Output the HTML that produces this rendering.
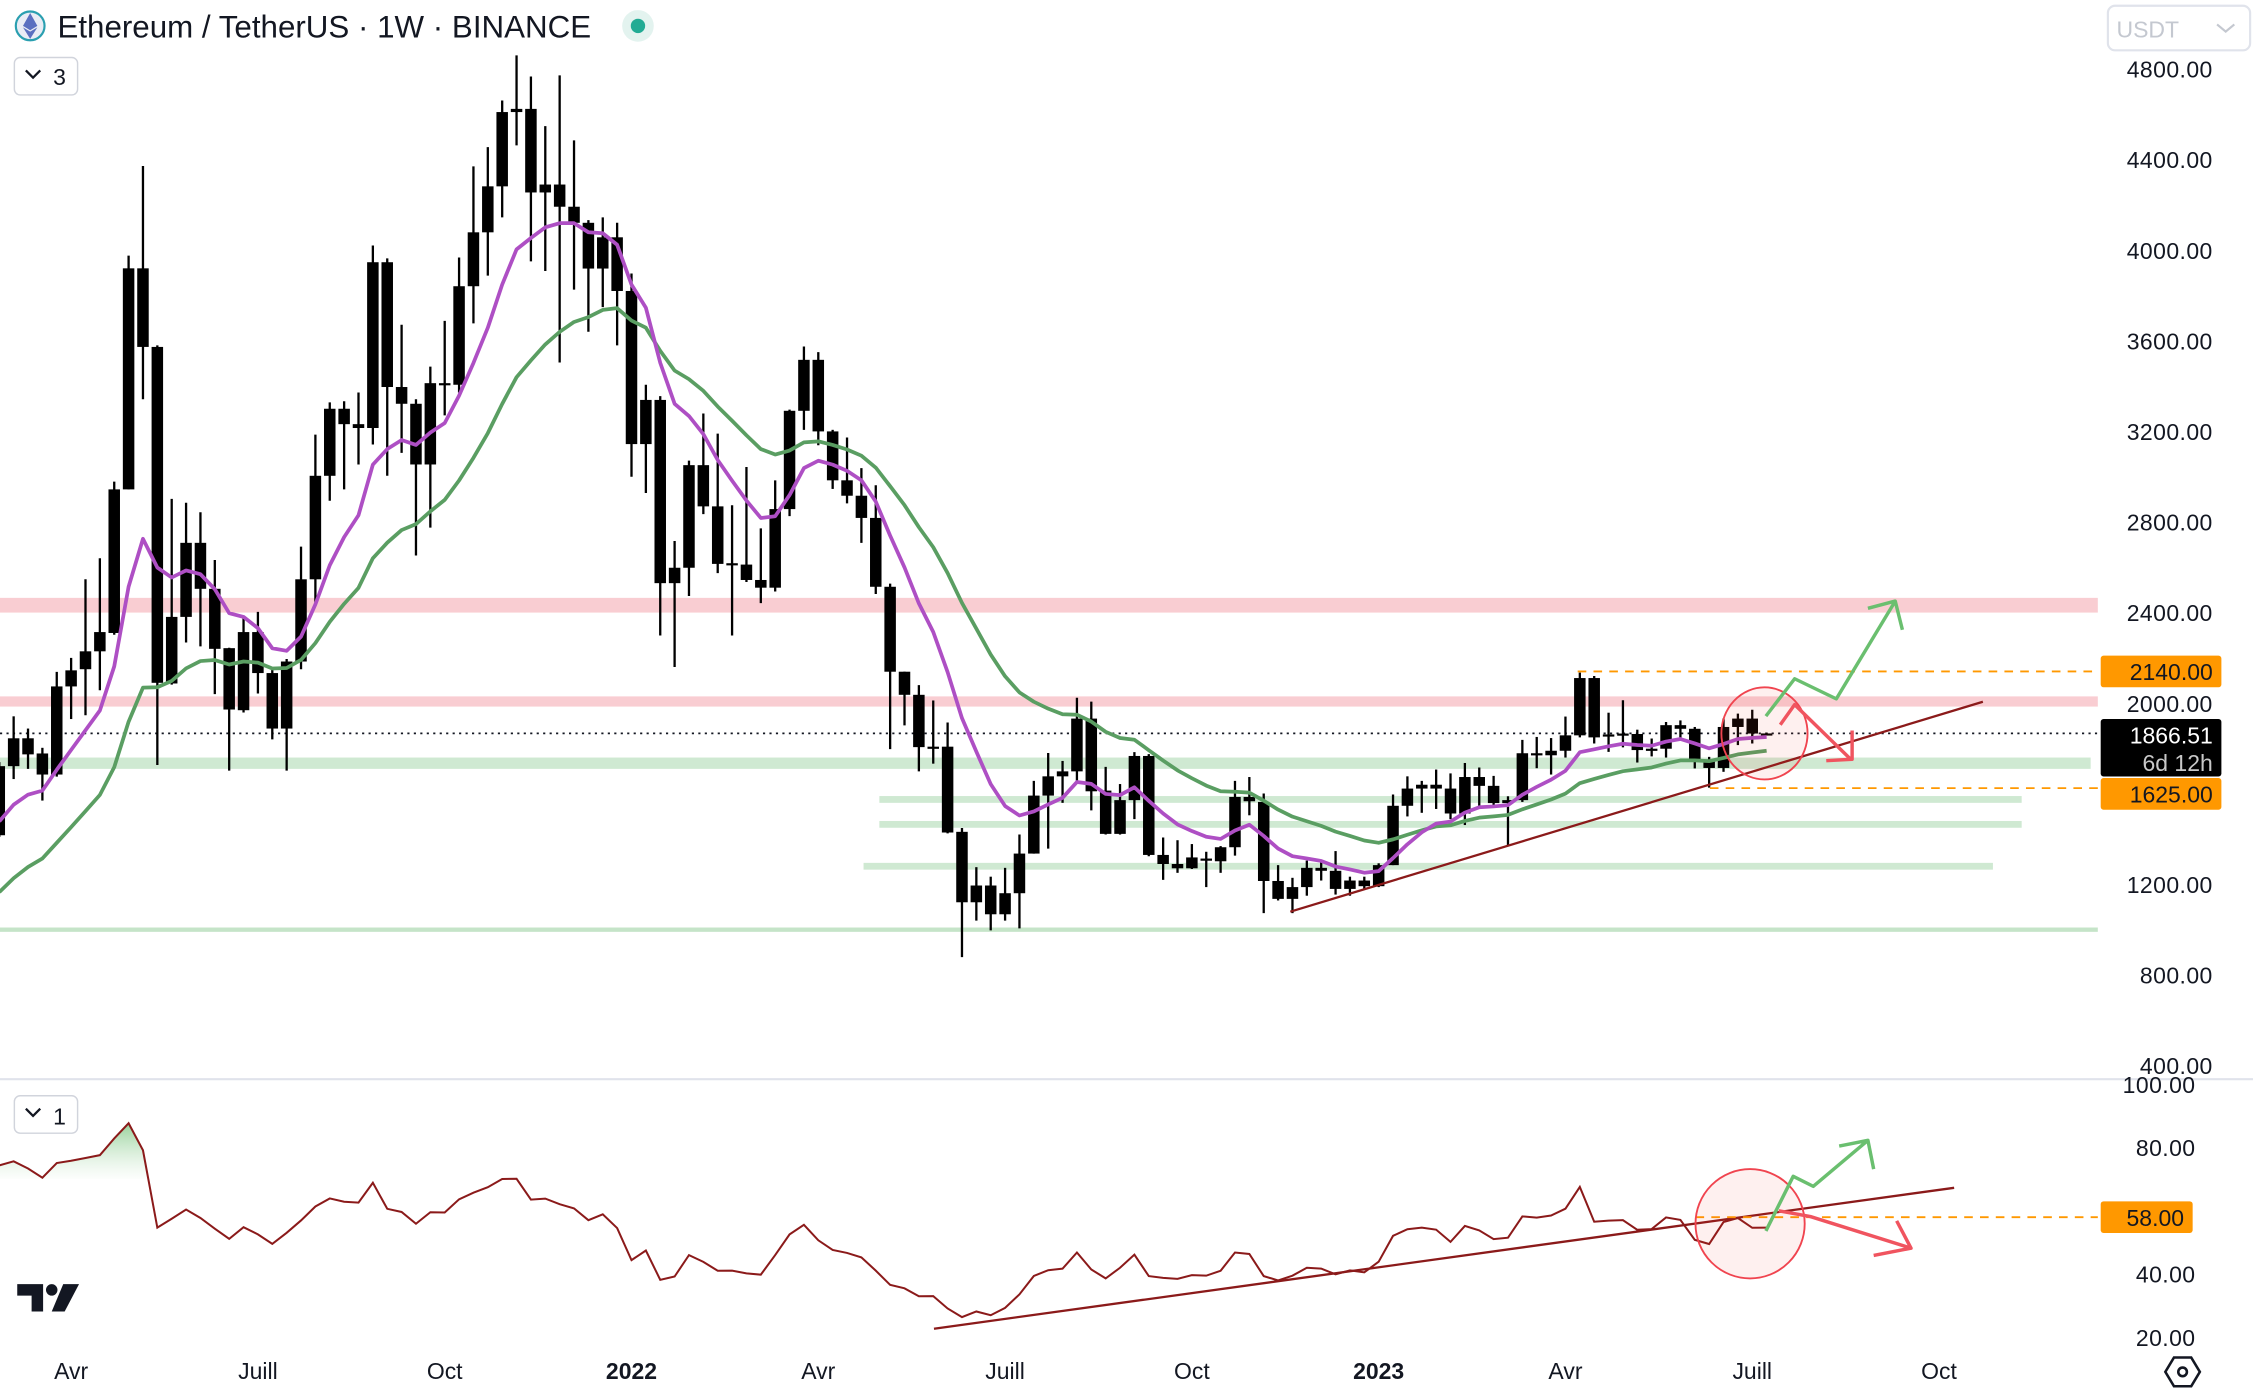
<!DOCTYPE html>
<html><head><meta charset="utf-8"><title>ETHUSDT 1W</title>
<style>
html,body{margin:0;padding:0;background:#fff;overflow:hidden}
svg{display:block}
text{font-family:"Liberation Sans",sans-serif}
</style></head>
<body>
<svg id="chart" xmlns="http://www.w3.org/2000/svg" width="2253" height="1392" viewBox="0 0 1568 968" preserveAspectRatio="none">
  <defs>
    <linearGradient id="obGrad" gradientUnits="userSpaceOnUse" x1="0" y1="780" x2="0" y2="822">
      <stop offset="0" stop-color="#81c784" stop-opacity="0.85"/>
      <stop offset="1" stop-color="#c8e6c9" stop-opacity="0"/>
    </linearGradient>
  </defs>
  <rect x="0" y="0" width="1568" height="968" fill="#fff"/>
  <g id="bands"></g>
  <g id="candles"></g>
  <g id="emas"></g>
  <g id="annot"></g>
  <g id="rsi"></g>
  <g id="axes"></g>
  <g>
    <circle cx="21" cy="18" r="10" fill="#e9ecf5" stroke="#2a9fb0" stroke-width="1.5"/>
    <path d="M21 9 L26 18 L21 21 L16 18 Z M21 22 L26 19 L21 27 L16 19 Z" fill="#5a6fc0"/>
    <text x="40" y="26" font-size="21.8" fill="#131722">Ethereum / TetherUS · 1W · BINANCE</text>
    <circle cx="444" cy="18" r="11" fill="#e3f3ef"/>
    <circle cx="444" cy="18" r="5" fill="#22ab94"/>
  </g>
  <g>
    <rect x="10" y="40" width="44" height="26" rx="4" fill="#fff" stroke="#d1d4dc"/>
    <path d="M18 49 L23 54 L28 49" fill="none" stroke="#131722" stroke-width="1.6"/>
    <text x="37" y="59" font-size="16" fill="#131722">3</text>
  </g>
  <g>
    <rect x="1467" y="4" width="99" height="31" rx="5" fill="#fff" stroke="#e0e3eb" stroke-width="1.5"/>
    <text x="1473" y="26" font-size="16" fill="#c4c8d0">USDT</text>
    <path d="M1543 17 L1549 22 L1555 17" fill="none" stroke="#c4c8d0" stroke-width="1.5"/>
  </g>
  <g>
    <rect x="10" y="762" width="44" height="26" rx="4" fill="#fff" stroke="#d1d4dc"/>
    <path d="M18 771 L23 776 L28 771" fill="none" stroke="#131722" stroke-width="1.6"/>
    <text x="37" y="782" font-size="16" fill="#131722">1</text>
  </g>
  <g>
    <path d="M12 893 H30 V912 H22 V901 H12 Z" fill="#131722"/>
    <circle cx="36" cy="897" r="4" fill="#131722"/>
    <path d="M44 893 H55 L45 912 H36 Z" fill="#131722"/>
  </g>
  <g>
    <path d="M1513 944 L1525 944 L1531 954 L1525 964 L1513 964 L1507 954 Z" fill="none" stroke="#131722" stroke-width="1.8"/>
    <circle cx="1519" cy="954" r="3" fill="none" stroke="#131722" stroke-width="1.8"/>
  </g>
</svg>
<script>
// ===== DATA (weekly ETH/USDT, from Mar 1 2021) =====
const warmCloses = [590,590,640,685,975,1192,1230,1392,1314,1613,1800,1935,1417];
const opens = [1417,1722,1845,1778,1685,2074,2150,2229,2310,2944,3920,3573,2087,2381,2708,2505,2243,1969,2314,2133,1888,2184,2547,3004,3300,3232,3215,3947,3396,3322,3054,3413,3406,3841,4079,4282,4610,4624,4255,4290,4192,4121,3919,4057,3820,3144,3339,2530,2598,3051,2869,2615,2612,2544,2510,2857,3291,3516,3200,2984,2916,2818,2514,2139,2037,1806,1808,1432,1121,1195,1068,1161,1336,1592,1677,1699,1932,1614,1423,1572,1767,1330,1290,1271,1314,1302,1364,1586,1564,1215,1136,1188,1273,1260,1180,1217,1192,1285,1547,1623,1640,1623,1513,1674,1635,1559,1572,1779,1770,1790,1858,2111,1857,1862,1864,1793,1799,1903,1887,1746,1714,1895,1932,1866];
const highs = [1740,1942,1888,1803,2138,2200,2547,2640,2978,3976,4372,3580,2902,2885,2843,2632,2245,2387,2403,2158,2195,2691,3186,3328,3333,3372,4021,3964,3671,3342,3486,3688,3968,4370,4455,4661,4860,4767,4548,4772,4485,4133,4145,4121,3897,3406,3356,2716,3071,3279,3190,2874,3043,2772,2984,3296,3575,3550,3207,3173,3038,2962,2528,2139,2080,2012,1915,1449,1276,1234,1273,1420,1657,1780,1745,2024,2007,1719,1643,1784,1775,1407,1395,1378,1344,1369,1657,1674,1601,1285,1229,1305,1298,1347,1234,1234,1293,1597,1677,1657,1707,1690,1736,1716,1679,1589,1838,1851,1846,1941,2135,2120,1958,2013,1883,1844,1917,1924,1895,1763,1932,1954,1971,1870];
const lows = [1410,1665,1710,1570,1676,1930,1947,2057,2302,2944,3342,1727,2082,2268,2251,2040,1702,1959,2043,1840,1702,2150,2446,2894,2944,3054,3142,3004,3105,2652,2775,3271,3372,3677,3888,4145,4463,3951,3908,3504,3826,3640,3749,3580,3000,2928,2299,2160,2473,2835,2574,2299,2535,2442,2493,2826,3207,3139,2946,2882,2708,2482,1797,1902,1699,1733,1425,879,1040,997,1040,1006,1336,1358,1560,1657,1527,1420,1420,1488,1324,1220,1251,1268,1188,1251,1327,1505,1073,1129,1073,1150,1217,1155,1150,1178,1188,1285,1500,1516,1533,1488,1462,1547,1542,1369,1564,1713,1685,1760,1849,1822,1785,1805,1738,1765,1760,1836,1712,1627,1697,1815,1822,1860];
const closes = [1722,1845,1774,1685,2074,2145,2229,2314,2944,3920,3573,2090,2381,2708,2505,2240,1972,2314,2133,1888,2184,2547,3004,3300,3232,3215,3947,3396,3322,3054,3413,3406,3841,4079,4282,4610,4624,4255,4290,4192,4121,3919,4057,3820,3144,3339,2530,2598,3051,2869,2615,2618,2544,2510,2857,3291,3516,3200,2984,2916,2818,2514,2139,2037,1806,1808,1429,1121,1195,1068,1161,1336,1592,1677,1699,1932,1611,1423,1572,1767,1330,1290,1271,1319,1308,1364,1586,1567,1215,1136,1188,1273,1260,1180,1217,1192,1285,1547,1623,1640,1623,1513,1674,1635,1559,1572,1779,1770,1790,1858,2111,1849,1862,1866,1793,1799,1903,1887,1746,1714,1895,1932,1866,1866.51];
const priceTicks = [4800,4400,4000,3600,3200,2800,2400,2000,1200,800,400];
const rsiTicks = [100,80,40,20];
const timeLabels = ["Avr","Juill","Oct","2022","Avr","Juill","Oct","2023","Avr","Juill","Oct"];
const timeLabelWeeks = [5,18,31,44,57,70,83,96,109,122,135];
const resistanceZones = [[2400,2465],[1985,2030]];
const supportZones = [[1710,1760],[1560,1590],[1450,1480],[1265,1295]];
const supportLine = 1000;
const levelHigh = 2140, levelLow = 1625, rsiLevel = 58;

// ===== SCALES =====
const NS = "http://www.w3.org/2000/svg";
const xOf = i => -0.5 + 10*i;
const yP = p => 48 + (4800 - p) * (693/4400);
const yR = v => 798 + (80 - v) * 2.2;
function mk(tag, attrs, parent){ const e=document.createElementNS(NS,tag); for(const k in attrs) e.setAttribute(k,attrs[k]); parent.appendChild(e); return e; }
const gB=document.getElementById('bands'), gC=document.getElementById('candles'), gE=document.getElementById('emas'),
      gA=document.getElementById('annot'), gR=document.getElementById('rsi'), gX=document.getElementById('axes');

// ===== ZONES =====
resistanceZones.forEach((z,i)=>{
  const r=mk('rect',{x:0,y:yP(z[1]),width:1460,height:yP(z[0])-yP(z[1]),fill:'#f8c8cd',opacity:0.9},gB);
  
  
});
const zoneX=[[0,1455],[612,1407],[612,1407],[601,1387]];
supportZones.forEach((z,i)=>{
  const r=mk('rect',{x:zoneX[i][0],y:yP(z[1]),width:zoneX[i][1]-zoneX[i][0],height:Math.max(4,yP(z[0])-yP(z[1])),fill:'#cfe9d2'},gB);
  
  
});
{
  const l=mk('rect',{x:0,y:yP(supportLine)-1.5,width:1460,height:3,fill:'#c5e4c8'},gB);
  
  
}
{
  const d=mk('line',{x1:0,x2:1460,y1:yP(closes[closes.length-1]),y2:yP(closes[closes.length-1]),stroke:'#131722','stroke-width':1.2,'stroke-dasharray':'1.5 3'},gB);
  
  
}

// ===== CANDLES =====
for(let i=0;i<closes.length;i++){
  const x=xOf(i);
  const w=mk('line',{x1:x,x2:x,y1:yP(highs[i]),y2:yP(lows[i]),stroke:'#000','stroke-width':1.6},gC);
  
  
  const top=yP(Math.max(opens[i],closes[i])), bot=yP(Math.min(opens[i],closes[i]));
  const b=mk('rect',{x:x-4,y:top,width:8,height:Math.max(1.5,bot-top),fill:'#000'},gC);
  
  
}

// ===== EMAs =====
const all=warmCloses.concat(closes), W=warmCloses.length;
function ema(n){ const a=2/(n+1); let e=all[0]; const out=[]; for(let i=0;i<all.length;i++){ e = i?e+a*(all[i]-e):e; out.push(e);} return out; }
[[21,'#5a9e62'],[9,'#ae4fc4']].forEach(([n,c])=>{
  const v=ema(n); let d='';
  for(let i=0;i<closes.length;i++) d+=(i?'L':'M')+xOf(i).toFixed(1)+' '+yP(v[i+W]).toFixed(1);
  const p=mk('path',{d:d,fill:'none',stroke:c,'stroke-width':2.6,'stroke-linejoin':'round'},gE);
  
  
});

// ===== ANNOTATIONS (main) =====
function dash(y,x1,name){ const l=mk('line',{x1:x1,x2:1460,y1:y,y2:y,stroke:'#ff9800','stroke-width':1.3,'stroke-dasharray':'6 5'},gA);   }
dash(yP(levelHigh),1098,'level-2140-line');
dash(yP(levelLow),1190,'level-1625-line');
{
  const t=mk('line',{x1:898,y1:634,x2:1380,y2:488,stroke:'#8b1a1a','stroke-width':1.6},gA);
  
  
  const c=mk('ellipse',{cx:1228,cy:510,rx:30,ry:32,fill:'rgba(244,67,54,0.08)',stroke:'#f0444f','stroke-width':1.3},gA);
  
  
  const g=mk('path',{d:'M1229 498 L1249 472 L1278 486 L1319 418 M1300 423 L1319 418 L1324 438',fill:'none',stroke:'#6abf6f','stroke-width':2.4,'stroke-linejoin':'round'},gA);
  
  
  const r=mk('path',{d:'M1239 504 L1249 490 L1288 528 M1271 529 L1289 528 L1289 508',fill:'none',stroke:'#f0545f','stroke-width':2.4,'stroke-linejoin':'round'},gA);
  
  
}

// ===== RSI =====
let ag=0,al=0; const rsi=[];
for(let i=1;i<all.length;i++){ const ch=all[i]-all[i-1]; const g=Math.max(ch,0), l=Math.max(-ch,0);
  if(i<=14){ ag+=g/14; al+=l/14; } else { ag=(ag*13+g)/14; al=(al*13+l)/14; }
  rsi[i]= al===0?100:100-100/(1+ag/al); }
let rd='';
for(let i=0;i<closes.length;i++) rd+=(i?'L':'M')+xOf(i).toFixed(1)+' '+yR(rsi[i+W]).toFixed(1);
{
  const cp=mk('clipPath',{id:'ob'},gR);
  mk('rect',{x:0,y:0,width:1460,height:yR(70)},cp);
  const f=mk('path',{d:rd+' L'+xOf(closes.length-1)+' '+yR(70)+' L'+xOf(0)+' '+yR(70)+' Z',fill:'url(#obGrad)','clip-path':'url(#ob)'},gR);
  
  
  const p=mk('path',{d:rd,fill:'none',stroke:'#8b1a1a','stroke-width':1.4},gR);
  
  
  const t=mk('line',{x1:650,y1:924,x2:1360,y2:826,stroke:'#8b1a1a','stroke-width':1.6},gR);
  
  
  const l=mk('line',{x1:1180,x2:1460,y1:yR(rsiLevel),y2:yR(rsiLevel),stroke:'#ff9800','stroke-width':1.3,'stroke-dasharray':'6 5'},gR);
  
  
  const c=mk('circle',{cx:1218,cy:851,r:38,fill:'rgba(244,67,54,0.08)',stroke:'#f0444f','stroke-width':1.3},gR);
  
  
  const g=mk('path',{d:'M1229 856 L1248 818 L1262 825 L1300 793 M1280 797 L1300 793 L1304 813',fill:'none',stroke:'#6abf6f','stroke-width':2.4,'stroke-linejoin':'round'},gR);
  
  
  const r=mk('path',{d:'M1238 842 L1260 846 L1330 868 M1304 873 L1330 868 L1320 849',fill:'none',stroke:'#f0545f','stroke-width':2.4,'stroke-linejoin':'round'},gR);
  
  
}

// ===== AXES =====
{
  const s=mk('line',{x1:0,x2:1568,y1:750.5,y2:750.5,stroke:'#e0e3eb','stroke-width':1.5},gX);
  
  
}
priceTicks.forEach(p=>{
  const t=mk('text',{x:1540,y:yP(p)+6,'font-size':16,fill:'#131722','text-anchor':'end','letter-spacing':'0.3'},gX);
  t.textContent=p.toFixed(2);
  
  
});
rsiTicks.forEach(v=>{
  const t=mk('text',{x:1528,y:yR(v)+6,'font-size':16,fill:'#131722','text-anchor':'end','letter-spacing':'0.3'},gX);
  t.textContent=v.toFixed(2);
  
  
});
function badge(y,h,fill,lines,name,w){
  const g=mk('g',{},gX);
  
  
  mk('rect',{x:1462,y:y,width:w||84,height:h,rx:2,fill:fill},g);
  lines.forEach((ln,j)=>{ const t=mk('text',{x:1540-(w?84-w:0),y:y+17+j*19,'font-size':16,fill:ln[1],'text-anchor':'end'},g); t.textContent=ln[0]; });
}
badge(yP(levelHigh)-11,22,'#ff9800',[[levelHigh.toFixed(2),'#131722']],'level-2140-badge');
badge(yP(levelLow)-7,22,'#ff9800',[[levelLow.toFixed(2),'#131722']],'level-1625-badge');
badge(500,40,'#000',[[closes[closes.length-1].toFixed(2),'#fff'],['6d 12h','#c8c8c8']],'last-price-badge');
badge(yR(rsiLevel)-11,22,'#ff9800',[[rsiLevel.toFixed(2),'#131722']],'rsi-58-badge',64);
timeLabels.forEach((s,j)=>{
  const t=mk('text',{x:xOf(timeLabelWeeks[j]),y:959,'font-size':16,fill:'#131722','text-anchor':'middle','font-weight':(s.length===4&&s[0]==='2')?'bold':'normal'},gX);
  t.textContent=s;
  
  
});
</script>
</body></html>
